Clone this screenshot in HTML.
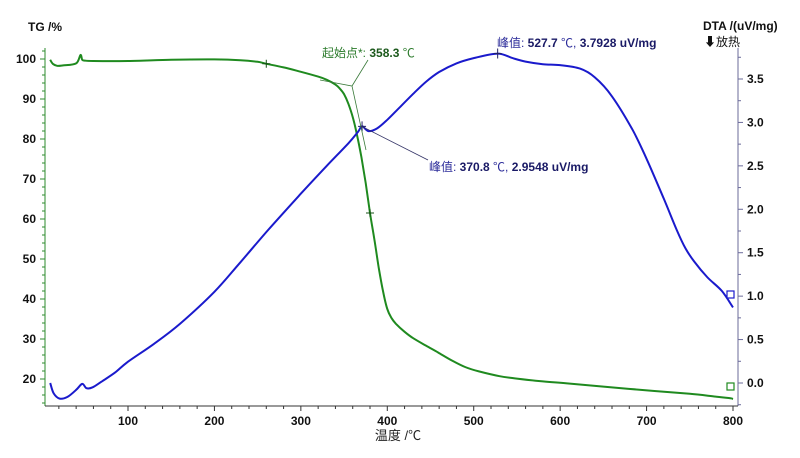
<!DOCTYPE html>
<html><head><meta charset="utf-8"><style>
html,body{margin:0;padding:0;background:#fff;}
svg{display:block;}
text{font-family:"Liberation Sans","Noto Sans CJK SC",sans-serif;}
.tk{font-size:12px;font-weight:bold;fill:#111;}
</style></head><body>
<svg id="chart" width="800" height="458" viewBox="0 0 800 458" xmlns="http://www.w3.org/2000/svg">
<g id="axes"></g>
<g id="series"></g>
<g id="annot"></g>
</svg>
<script>
// Data
const xTicks = [100,200,300,400,500,600,700,800];
const tgTicks = [20,30,40,50,60,70,80,90,100];
const dtaTicks = ["0.0","0.5","1.0","1.5","2.0","2.5","3.0","3.5"];
const tgTemp = [10,13,18,25,40,45,47,50,60,100,150,200,230,250,260,280,300,320,330,340,345,350,355,360,365,370,375,380,385,390,395,400,405,410,420,430,445,459,475,490,506,530,550,580,608,650,709,750,780,797,800];
const tgVal  = [99.8,98.8,98.3,98.4,98.9,101.0,99.8,99.6,99.5,99.5,99.8,99.9,99.7,99.3,98.8,97.9,96.8,95.6,94.8,93.6,92.6,91.2,88.8,85.5,81.0,75.5,69.0,61.5,55.0,48.0,42.0,37.5,35.2,33.8,31.8,30.2,28.3,26.6,24.6,23.0,21.9,20.7,20.1,19.4,18.9,18.1,17.0,16.3,15.6,15.2,15.0];
const dtaTemp = [10,14,21,30,40,47,52,59,70,85,100,130,160,200,230,262,300,330,355,366,370.8,378,388,400,415,430,445,460,480,500,527.7,545,560,580,600,623,640,660,684,700,720,735,745,755,770,787,800];
const dtaVal  = [0.0,-0.12,-0.18,-0.16,-0.08,-0.01,-0.06,-0.05,0.02,0.12,0.245,0.45,0.68,1.05,1.39,1.76,2.18,2.5,2.76,2.89,2.955,2.9,2.93,3.03,3.18,3.33,3.47,3.58,3.68,3.74,3.7928,3.74,3.7,3.67,3.66,3.62,3.52,3.3,2.91,2.58,2.12,1.76,1.55,1.4,1.22,1.06,0.87];

// Axis functions
const X = t => 128 + (t-100)*0.8643;
const YL = v => 59 + (100-v)*4;
const YR = v => 383 - v*86.86;
const NS="http://www.w3.org/2000/svg";
function el(tag, attrs, parent, txt){const e=document.createElementNS(NS,tag);for(const k in attrs)e.setAttribute(k,attrs[k]);if(txt!==undefined)e.textContent=txt;parent.appendChild(e);return e;}
function smooth(pts){let d='M'+pts[0][0].toFixed(1)+','+pts[0][1].toFixed(1);for(let i=0;i<pts.length-1;i++){const p0=pts[i-1]||pts[i],p1=pts[i],p2=pts[i+1],p3=pts[i+2]||p2;const c1=[p1[0]+(p2[0]-p0[0])/6,p1[1]+(p2[1]-p0[1])/6],c2=[p2[0]-(p3[0]-p1[0])/6,p2[1]-(p3[1]-p1[1])/6];d+=` C${c1[0].toFixed(1)},${c1[1].toFixed(1)} ${c2[0].toFixed(1)},${c2[1].toFixed(1)} ${p2[0].toFixed(1)},${p2[1].toFixed(1)}`;}return d;}
const axes=document.getElementById('axes'), series=document.getElementById('series'), annot=document.getElementById('annot');

// Left axis
let a=el('line',{x1:45,y1:48,x2:45,y2:406,stroke:'#2e8b2e','stroke-width':1},axes);


for(let v=14;v<=102;v+=2){const major=v%10===0;el('line',{x1:major?40:42,y1:YL(v),x2:45,y2:YL(v),stroke:'#2e8b2e','stroke-width':1},axes);}
tgTicks.forEach(v=>{const t=el('text',{x:36,y:YL(v)+4,'text-anchor':'end',class:'tk'},axes,String(v));

});
// Right axis
a=el('line',{x1:738,y1:48,x2:738,y2:406,stroke:'#6b6b9a','stroke-width':1},axes);


for(let v=-0.25;v<=3.8;v+=0.25){const major=Math.abs(v*2-Math.round(v*2))<0.01;el('line',{x1:738,y1:YR(v),x2:major?743:741,y2:YR(v),stroke:'#6b6b9a','stroke-width':1},axes);}
dtaTicks.forEach(s=>{const t=el('text',{x:747,y:YR(parseFloat(s))+4,class:'tk'},axes,s);

});
// Bottom axis
a=el('line',{x1:45,y1:406,x2:738,y2:406,stroke:'#333','stroke-width':1},axes);


for(let t=20;t<=800;t+=20){const major=t%100===0;el('line',{x1:X(t),y1:406,x2:X(t),y2:major?411:409,stroke:'#333','stroke-width':1},axes);}
xTicks.forEach(v=>{const t=el('text',{x:X(v),y:425,'text-anchor':'middle',class:'tk'},axes,String(v));

});
let tt=el('text',{x:398,y:440,'text-anchor':'middle','font-size':'13',fill:'#222'},axes,'温度 /℃');


tt=el('text',{x:28,y:31,'font-size':'12','font-weight':'bold',fill:'#111'},axes,'TG /%');


tt=el('text',{x:703,y:30,'font-size':'12','font-weight':'bold',fill:'#111'},axes,'DTA /(uV/mg)');


tt=el('text',{x:704,y:46,'font-size':'12',fill:'#111'},axes,'⬇放热');



// Series
const tgPts=tgTemp.map((t,i)=>[X(t),YL(tgVal[i])]);
let p=el('path',{d:smooth(tgPts),fill:'none',stroke:'#1f8a1f','stroke-width':2,'stroke-linejoin':'round'},series);


const dPts=dtaTemp.map((t,i)=>[X(t),YR(dtaVal[i])]);
p=el('path',{d:smooth(dPts),fill:'none',stroke:'#1a1acc','stroke-width':2,'stroke-linejoin':'round'},series);



// Annotations
[[X(260),YL(98.8)],[X(380),YL(61.5)]].forEach(c=>{el('path',{d:`M${c[0]-4},${c[1]}h8M${c[0]},${c[1]-4}v8`,stroke:'#145214','stroke-width':1},annot);});
[[X(370.8),YR(2.955)],[X(527.7),YR(3.7928)]].forEach(c=>{el('path',{d:`M${c[0]-4},${c[1]}h8M${c[0]},${c[1]-5}v10`,stroke:'#222266','stroke-width':1},annot);});
el('path',{d:'M320,80 L352,86 L368,60 M352,86 L366,150',stroke:'#3a7a3a','stroke-width':0.8,fill:'none'},annot);
el('path',{d:'M363,127 L428,160',stroke:'#333366','stroke-width':0.8,fill:'none'},annot);
tt=el('text',{x:322,y:57,'font-size':'12',fill:'#2a7a2a'},annot);
tt.innerHTML='起始点*: <tspan font-weight="bold" fill="#1d5a1d">358.3</tspan> ℃';


tt=el('text',{x:429,y:171,'font-size':'12',fill:'#2a2a99'},annot);
tt.innerHTML='峰值: <tspan font-weight="bold" fill="#1a1a66">370.8</tspan> ℃, <tspan font-weight="bold" fill="#1a1a66">2.9548 uV/mg</tspan>';


tt=el('text',{x:497,y:47,'font-size':'12',fill:'#2a2a99'},annot);
tt.innerHTML='峰值: <tspan font-weight="bold" fill="#1a1a66">527.7</tspan> ℃, <tspan font-weight="bold" fill="#1a1a66">3.7928 uV/mg</tspan>';


// end markers
let m=el('rect',{x:727,y:291,width:7,height:7,fill:'#fff',stroke:'#1a1acc','stroke-width':1.2},annot);


m=el('rect',{x:727,y:383,width:7,height:7,fill:'#fff',stroke:'#1f8a1f','stroke-width':1.2},annot);


</script>
</body></html>
